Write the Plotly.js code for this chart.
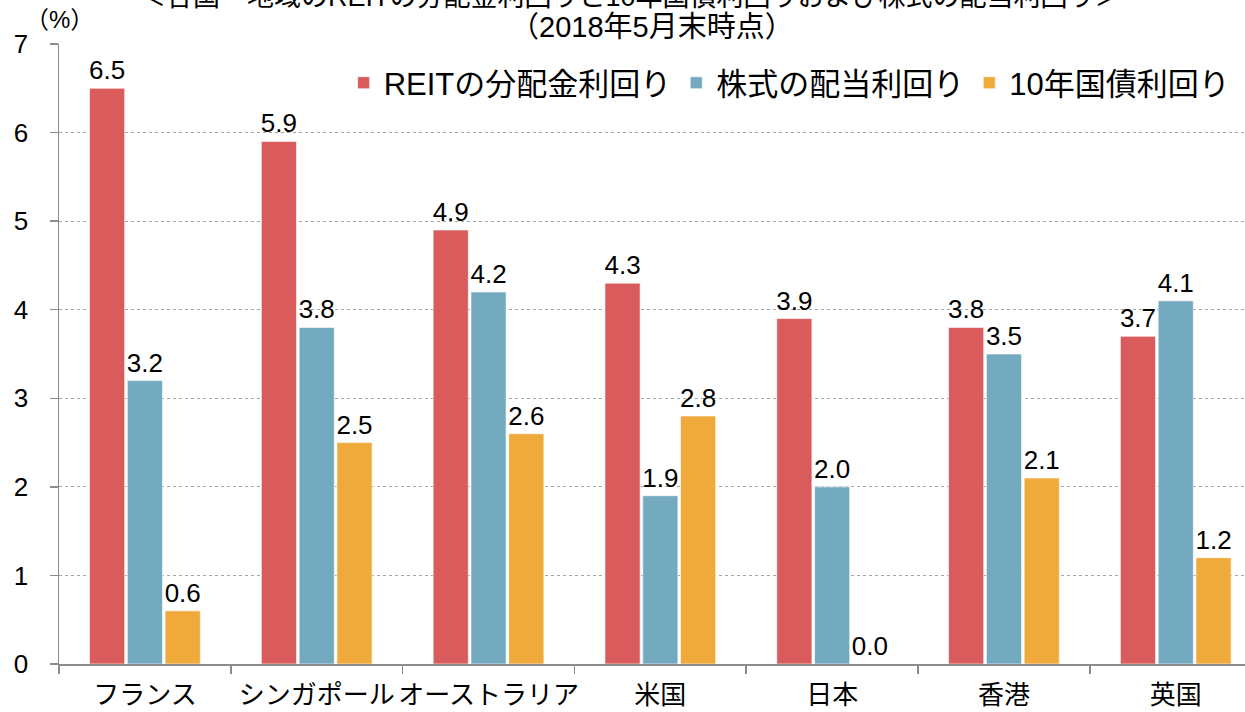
<!DOCTYPE html>
<html>
<head>
<meta charset="utf-8">
<script src="https://cdn.plot.ly/plotly-3.0.1.min.js"></script>
<style>html,body{margin:0;padding:0;background:#fff;}#chart{width:1245px;height:712px;}</style>
</head>
<body>
<div id="chart"></div>
<script>
const categories = ["フランス", "シンガポール", "オーストラリア", "米国", "日本", "香港", "英国"];
const reitYield = [6.5, 5.9, 4.9, 4.3, 3.9, 3.8, 3.7];
const stockYield = [3.2, 3.8, 4.2, 1.9, 2.0, 3.5, 4.1];
const bondYield = [0.6, 2.5, 2.6, 2.8, 0.0, 2.1, 1.2];
const seriesNames = ["REITの分配金利回り", "株式の配当利回り", "10年国債利回り"];
const titleLine1 = "＜各国・地域のREITの分配金利回りと10年国債利回りおよび株式の配当利回り＞";
const titleLine2 = "（2018年5月末時点）";
const unitLabel = "（%）";

const FONT = 'Liberation Sans, Arial, "Noto Sans CJK JP", sans-serif';
const colors = ["#D95B5C", "#74AAC0", "#F0AA3C"];
const seriesData = [reitYield, stockYield, bondYield];

const traces = seriesData.map((vals, i) => ({
  type: "bar",
  name: seriesNames[i],
  x: categories,
  y: vals,
  marker: {color: colors[i], line: {color: "rgba(255,255,255,0.6)", width: 1}},
  text: vals.map(v => v.toFixed(1)),
  texttemplate: "%{text}",
  textposition: "outside",
  constraintext: "none",
  cliponaxis: false,
  textfont: {family: FONT, size: 26, color: "#000"},
  hoverinfo: "skip"
}));

const layout = {
  width: 1245,
  height: 712,
  margin: {l: 59, r: 0, t: 44, b: 48},
  paper_bgcolor: "#fff",
  plot_bgcolor: "#fff",
  font: {family: FONT, color: "#000"},
  barmode: "group",
  bargap: 0.34,
  bargroupgap: 0.07,
  showlegend: true,
  legend: {
    orientation: "h",
    x: 0.24, xanchor: "left",
    y: 0.937, yanchor: "middle",
    font: {family: FONT, size: 31, color: "#000"},
    bgcolor: "rgba(255,255,255,0)",
    traceorder: "normal"
  },
  xaxis: {
    type: "category",
    range: [-0.5, 6.403],
    showline: true, linecolor: "#8c8c8c", linewidth: 1.5,
    ticks: "outside", tickson: "boundaries", ticklen: 8, tickcolor: "#8c8c8c", tickwidth: 1.5,
    tickangle: 0,
    tickfont: {family: FONT, size: 26, color: "#000"},
    ticklabelstandoff: 7,
    showgrid: false, zeroline: false, fixedrange: true
  },
  yaxis: {
    range: [0, 7],
    dtick: 1,
    showline: true, linecolor: "#8c8c8c", linewidth: 1.5,
    ticks: "outside", ticklen: 8, tickcolor: "#8c8c8c", tickwidth: 1.5,
    tickfont: {family: FONT, size: 26, color: "#000"},
    ticklabelstandoff: 16,
    showgrid: true, gridcolor: "#a6a6a6", griddash: "dot", gridwidth: 1,
    zeroline: false, fixedrange: true
  },
  annotations: [
    {text: titleLine1, xref: "paper", yref: "paper", x: 0.482, y: 1 + 47/620, xanchor: "center", yanchor: "middle",
     showarrow: false, font: {family: FONT, size: 27, color: "#000"}},
    {text: titleLine2, xref: "paper", yref: "paper", x: 0.5, y: 1 + 17/620, xanchor: "center", yanchor: "middle",
     showarrow: false, font: {family: FONT, size: 29, color: "#000"}},
    {text: unitLabel, xref: "paper", yref: "paper", x: 0, y: 1 + 24/620, xanchor: "center", yanchor: "middle",
     showarrow: false, font: {family: FONT, size: 24, color: "#000"}}
  ]
};

Plotly.newPlot("chart", traces, layout, {displayModeBar: false, staticPlot: true});
</script>
</body>
</html>
